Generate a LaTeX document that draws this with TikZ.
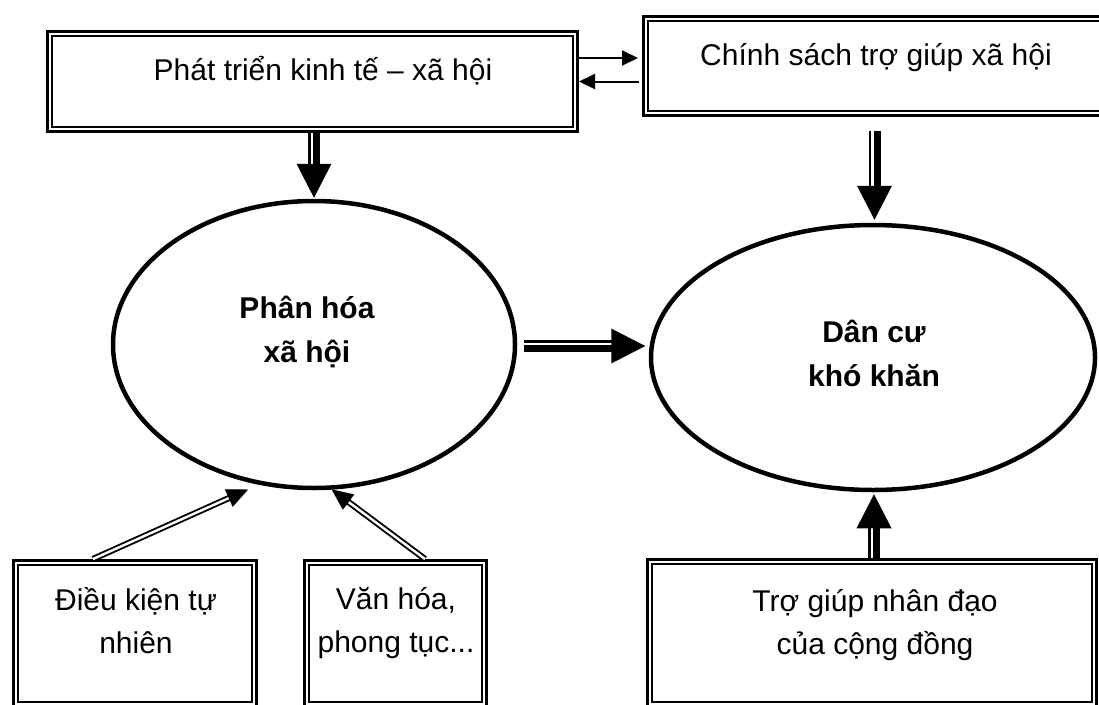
\documentclass[tikz,border=0pt]{standalone}
\usepackage{fontspec}
\setmainfont{Liberation Sans}
\usetikzlibrary{arrows.meta,shapes.geometric,calc}

% thick two-stripe arrow pointing along a vertical or horizontal direction
% #1 start, #2 tip; shaft = thin stripe + thick stripe, filled triangular head
\newcommand\fatarrowV[2]{%
  \draw[thinbar] ($(#1)+(-4.5,0)$) -- ($(#2)!33pt!(#1)+(-4.5,0)$);
  \draw[thickbar] ($(#1)+(2.8,0)$) -- ($(#2)!33pt!(#1)+(2.8,0)$);
  \fill (#2) -- ($(#2)!34pt!(#1)+(-17.5,0)$) -- ($(#2)!34pt!(#1)+(17.5,0)$) -- cycle;}
\newcommand\fatarrowH[2]{%
  \draw[thinbar] ($(#1)+(0,-4.5)$) -- ($(#2)!33pt!(#1)+(0,-4.5)$);
  \draw[thickbar] ($(#1)+(0,2.8)$) -- ($(#2)!33pt!(#1)+(0,2.8)$);
  \fill (#2) -- ($(#2)!34pt!(#1)+(0,-17.5)$) -- ($(#2)!34pt!(#1)+(0,17.5)$) -- cycle;}
% slim double-line arrow with a solid head
\newcommand\dblarrow[2]{%
  \draw[dblline] (#1) -- ($(#2)!19pt!(#1)$);
  \draw[line width=0.01pt,-{Triangle[length=21pt,width=19pt]}] ($(#2)!21pt!(#1)$) -- (#2);}

\begin{document}
\begin{tikzpicture}[x=1pt,y=-1pt,
  dbox/.style={rectangle, draw, line width=3pt, inner sep=0pt,
    path picture={\draw[line width=2pt]
      ([shift={(4.5pt,-4.5pt)}]path picture bounding box.north west) rectangle
      ([shift={(-4.5pt,4.5pt)}]path picture bounding box.south east);}},
  oval/.style={ellipse, draw, line width=4.5pt, inner sep=0pt},
  txt/.style={inner sep=0pt, align=center, font=\fontsize{30}{43}\selectfont},
  btxt/.style={txt, font=\fontsize{30}{44}\selectfont\bfseries},
  thinbar/.style={line width=2.4pt},
  thickbar/.style={line width=7pt},
  dblline/.style={double, line width=1.9pt, double distance=2.4pt},
  slim/.style={line width=2pt, -{Triangle[length=16pt,width=15pt]}}]

\useasboundingbox (0,0) rectangle (1099,704);
\fill[white] (0,0) rectangle (1099,704);
\clip (0,0) rectangle (1099,704);

% boxes
\node[dbox, minimum width=530pt, minimum height=100pt] (b1) at (312.5,81.5) {};
\node[dbox, minimum width=470pt, minimum height=99pt] (b2) at (878.5,66) {};
\node[dbox, minimum width=243pt, minimum height=146pt] (dk) at (135,633.5) {};
\node[dbox, minimum width=182pt, minimum height=146pt] (vh) at (395.5,633.5) {};
\node[dbox, minimum width=449pt, minimum height=147pt] (tg) at (872,633) {};

% ellipses
\node[oval, minimum width=402pt, minimum height=287pt] (e1) at (314,344.5) {};
\node[oval, minimum width=444pt, minimum height=265pt] (e2) at (873,357.5) {};

% texts (anchor=base sits on the last line's baseline)
\node[txt, anchor=base] (t1) at (323,80) {Phát triển kinh tế – xã hội};
\node[txt, anchor=base] (t2) at (876,65) {Chính sách trợ giúp xã hội};
\node[btxt, anchor=base] (t3) at (307,362) {Phân hóa\\xã hội};
\node[btxt, anchor=base] (t4) at (874,386) {Dân cư\\khó khăn};
\node[txt, anchor=base] (t5) at (136,653) {Điều kiện tự\\nhiên};
\node[txt, anchor=base] (t6) at (396,652) {Văn hóa,\\phong tục...};
\node[txt, anchor=base] (t7) at (875,654) {Trợ giúp nhân đạo\\của cộng đồng};

% arrows between the two top boxes
\coordinate (u1) at ($(b2.west)+(-4,-8)$);
\draw[slim] (b1.east |- u1) -- (u1);
\draw[slim] ($(b2.west |- b1.east)+(-3,0)$) -- (b1.east);

% heavy arrows
\coordinate (p1) at (b1.south -| e1.north);
\coordinate (q1) at ($(e1.north)+(0,-1)$);
\fatarrowV{p1}{q1}
\coordinate (p2) at ($(b2.south -| e2.north)+(1.5,14)$);
\coordinate (q2) at ($(e2.north)+(1.5,-3)$);
\fatarrowV{p2}{q2}
\coordinate (p3) at ($(e1.east)+(7,1.5)$);
\coordinate (q3) at ($(p3 -| e2.west)+(-3.5,0)$);
\fatarrowH{p3}{q3}
\coordinate (p4) at ($(tg.north -| e2.south)+(1,0)$);
\coordinate (q4) at ($(e2.south)+(1,2)$);
\fatarrowV{p4}{q4}

% slim double arrows into the left ellipse
\coordinate (s1) at ($(dk.north)+(-42,0)$);
\coordinate (r1) at (248,489.5);
\dblarrow{s1}{r1}
\coordinate (s2) at ($(vh.north)+(29.5,0)$);
\coordinate (r2) at (331.7,489.5);
\dblarrow{s2}{r2}
\end{tikzpicture}
\end{document}
